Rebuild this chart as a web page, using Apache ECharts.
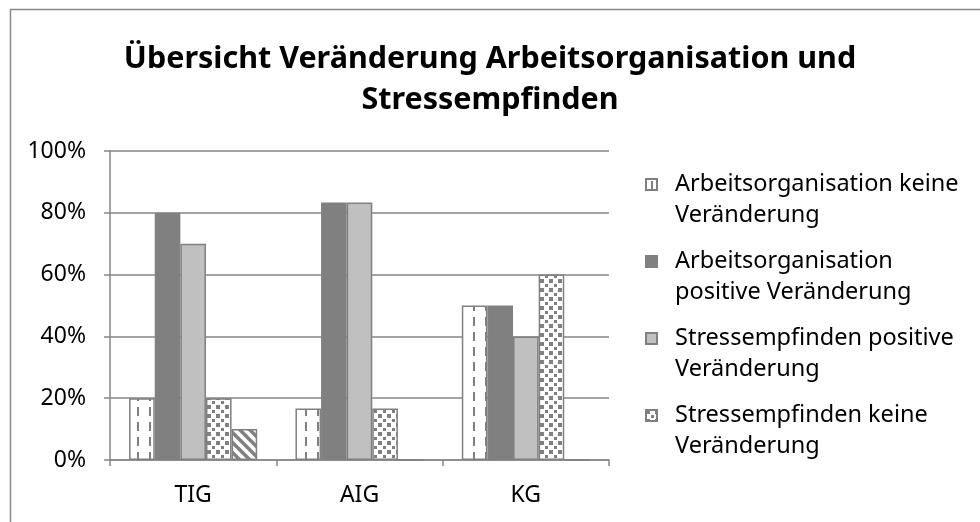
<!DOCTYPE html>
<html>
<head>
<meta charset="utf-8">
<script src="https://cdn.jsdelivr.net/npm/echarts@6/dist/echarts.min.js"></script>
<style>html,body{margin:0;padding:0;background:#fff}#c{width:980px;height:522px}</style>
</head>
<body>
<div id="c"></div>
<script>
// ---- data ----
const categories = ['TIG', 'AIG', 'KG'];
const seriesNames = [
  'Arbeitsorganisation keine Veränderung',
  'Arbeitsorganisation positive Veränderung',
  'Stressempfinden positive Veränderung',
  'Stressempfinden keine Veränderung',
  'Serie 5'
];
const legendLines = [
  'Arbeitsorganisation keine\nVeränderung',
  'Arbeitsorganisation\npositive Veränderung',
  'Stressempfinden positive\nVeränderung',
  'Stressempfinden keine\nVeränderung'
];
const arbeitKeine   = [20, 16.7, 50];
const arbeitPositiv = [80, 83.3, 50];
const stressPositiv = [70, 83.3, 40];
const stressKeine   = [20, 16.7, 60];
const serie5        = [10, 0, 0];
const yTicks = { min: 0, max: 100, interval: 20 };
const titleText = 'Übersicht Veränderung Arbeitsorganisation und\nStressempfinden';

// ---- patterns ----
const GRAY = '#808080';
function pattern(kind) {
  const c = document.createElement('canvas');
  const ctx = c.getContext('2d');
  if (kind === 'dash') {
    c.width = 12; c.height = 15;
    ctx.fillStyle = '#fff'; ctx.fillRect(0, 0, 12, 15);
    ctx.fillStyle = GRAY; ctx.fillRect(5, 2, 2, 9);
  } else if (kind === 'dots') {
    c.width = 9; c.height = 9;
    ctx.fillStyle = '#fff'; ctx.fillRect(0, 0, 9, 9);
    ctx.fillStyle = GRAY;
    ctx.fillRect(0, 0, 4, 4);
    ctx.fillRect(5, 5, 3, 3);
  } else if (kind === 'diag') {
    c.width = 10; c.height = 10;
    ctx.fillStyle = '#fff'; ctx.fillRect(0, 0, 10, 10);
    ctx.strokeStyle = GRAY; ctx.lineWidth = 3.5;
    ctx.beginPath();
    ctx.moveTo(-3, -3); ctx.lineTo(13, 13);
    ctx.moveTo(-13, -3); ctx.lineTo(3, 13);
    ctx.moveTo(7, -3); ctx.lineTo(23, 13);
    ctx.stroke();
  }
  return { image: c, repeat: 'repeat' };
}

const fills = [pattern('dash'), '#808080', '#c0c0c0', pattern('dots'), pattern('diag')];
const values = [arbeitKeine, arbeitPositiv, stressPositiv, stressKeine, serie5];

const chart = echarts.init(document.getElementById('c'), null, { renderer: 'canvas' });
const labelFont = 'Noto Sans';
chart.setOption({
  animation: false,
  backgroundColor: '#fff',
  title: {
    text: titleText,
    left: 'center',
    top: 34,
    padding: [5, 12, 5, 0],
    textStyle: { fontFamily: labelFont, fontWeight: 'bold', fontSize: 30.5, lineHeight: 41, color: '#000' }
  },
  graphic: [{
    type: 'rect', left: 8, top: 7,
    shape: { width: 1100, height: 1100 },
    style: { fill: 'none', stroke: '#898989', lineWidth: 1.5 },
    silent: true, z: 100
  }],
  legend: {
    orient: 'vertical',
    left: 645, top: 138,
    padding: 0,
    itemWidth: 11, itemHeight: 11,
    itemGap: -16,
    icon: 'rect',
    data: seriesNames.slice(0, 4),
    formatter: function (name) { return ' \n' + legendLines[seriesNames.indexOf(name)]; },
    textStyle: { fontFamily: labelFont, fontSize: 23.5, lineHeight: 31, color: '#000', padding: [0, 0, 0, 13] }
  },
  grid: { left: 110, right: 371, top: 151, bottom: 62, containLabel: false },
  xAxis: {
    type: 'category',
    data: categories,
    axisLine: { lineStyle: { color: '#868686', width: 1.5 } },
    axisTick: { show: true, length: 6, lineStyle: { color: '#868686', width: 1.5 } },
    axisLabel: { fontFamily: labelFont, fontSize: 23, color: '#000', margin: 24 }
  },
  yAxis: {
    type: 'value',
    min: yTicks.min, max: yTicks.max, interval: yTicks.interval,
    axisLine: { show: true, lineStyle: { color: '#868686', width: 1.5 } },
    axisTick: { show: true, length: 6, lineStyle: { color: '#868686', width: 1.5 } },
    splitLine: { lineStyle: { color: '#868686', width: 1.5 } },
    axisLabel: { fontFamily: labelFont, fontSize: 23, color: '#000', margin: 24, formatter: '{value}%' }
  },
  series: values.map(function (v, i) {
    return {
      name: seriesNames[i],
      type: 'bar',
      data: v,
      barGap: '0%',
      barCategoryGap: '23%',
      itemStyle: { color: fills[i], borderColor: '#808080', borderWidth: 1.5 }
    };
  })
});
</script>
</body>
</html>
